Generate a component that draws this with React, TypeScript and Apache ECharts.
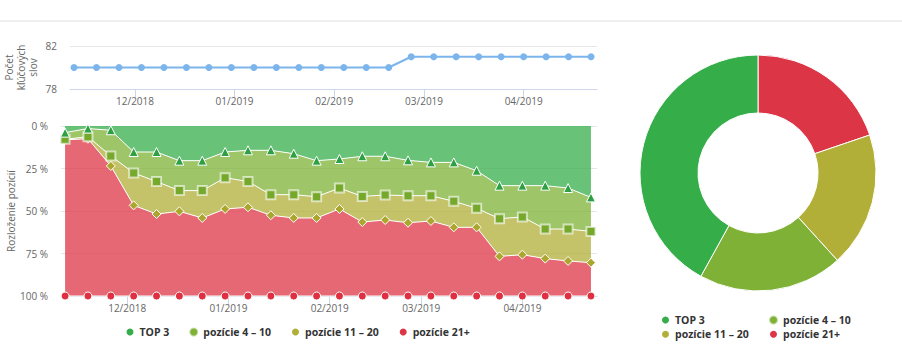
import React, { useEffect, useRef } from "react";
import * as echarts from "echarts";

const dates = [
  "2018-11-12", "2018-11-19", "2018-11-26", "2018-12-03", "2018-12-10", "2018-12-17",
  "2018-12-24", "2018-12-31", "2019-01-07", "2019-01-14", "2019-01-21", "2019-01-28",
  "2019-02-04", "2019-02-11", "2019-02-18", "2019-02-25", "2019-03-04", "2019-03-11",
  "2019-03-18", "2019-03-25", "2019-04-01", "2019-04-08", "2019-04-15", "2019-04-22",
];
const keywordCount = [80, 80, 80, 80, 80, 80, 80, 80, 80, 80, 80, 80, 80, 80, 80, 81, 81, 81, 81, 81, 81, 81, 81, 81];

const top3 = [3.9, 1.5, 2.5, 15.3, 15.3, 20.4, 20.4, 15.3, 14.3, 14.3, 16.3, 20.4, 19.4, 17.8, 17.8, 20.2, 21.4, 21.4, 26.3, 35.1, 35.1, 35.1, 36.5, 42.0];
const pos4to10 = [3.9, 4.8, 15.1, 12.3, 17.4, 17.6, 17.6, 15.1, 18.4, 26.1, 24.1, 21.2, 17.1, 23.6, 22.8, 20.8, 19.6, 22.9, 22.1, 19.4, 18.4, 25.5, 24.1, 20.0];
const pos11to20 = [0.3, 1.2, 5.9, 19.1, 19.1, 12.2, 16.1, 18.4, 15.1, 12.1, 13.7, 12.5, 12.3, 15.1, 14.7, 15.9, 14.9, 15.3, 11.2, 22.2, 22.2, 17.4, 18.8, 18.4];
const pos21plus = [91.9, 92.5, 76.5, 53.3, 48.2, 49.8, 45.9, 51.2, 52.2, 47.5, 45.9, 45.9, 51.2, 43.5, 44.7, 43.1, 44.1, 40.4, 40.4, 23.3, 24.3, 22.0, 20.6, 19.6];

const monthTicks = ["2018-12-01", "2019-01-01", "2019-02-01", "2019-03-01", "2019-04-01"];

const seriesNames = ["TOP 3", "pozície 4 – 10", "pozície 11 – 20", "pozície 21+"];
const seriesColors = ["#35ae4a", "#7eb136", "#b1af38", "#dc3546"];
const markerColors = ["#2ea043", "#76a82c", "#aaa72c", "#e02f41"];
const markerSymbols = ["triangle", "rect", "diamond", "circle"];

// donut (latest week), clockwise from 12 o'clock
const pieNames = ["pozície 21+", "pozície 11 – 20", "pozície 4 – 10", "TOP 3"];
const pieValues = [19.8, 18.5, 19.8, 42.0];

const FONT = "Open Sans";
const DAY = 86400000;

function ts(s: string) {
  const [y, m, d] = s.split("-").map(Number);
  return new Date(y, m - 1, d).getTime();
}
function fmtMonth(v: number) {
  const d = new Date(v);
  const mm = d.getMonth() + 1;
  return (mm < 10 ? "0" + mm : "" + mm) + "/" + d.getFullYear();
}

export default function App() {
  const ref = useRef<HTMLDivElement>(null);
  useEffect(() => {
    if (!ref.current) return;
    const chart = echarts.init(ref.current, undefined, { renderer: "svg" });
    const xMin = ts(dates[0]) - 1.25 * DAY;
    const xMax = ts(dates[dates.length - 1]) + 1.85 * DAY;
    const tickVals = monthTicks.map(ts);
    const lbl = { color: "#666", fontSize: 10, fontFamily: FONT };

    const mkX = (gridIndex: number) => ({
      type: "value",
      gridIndex,
      min: xMin,
      max: xMax,
      scale: true,
      axisLine: { show: true, onZero: false, lineStyle: { color: "#ccd6eb", width: 1 } },
      axisTick: { show: true, length: 8, customValues: tickVals, lineStyle: { color: "#ccd6eb" } },
      axisLabel: { ...lbl, margin: 7, customValues: tickVals, formatter: (v: number) => fmtMonth(v) },
      splitLine: { show: false },
    });

    const stackData = [top3, pos4to10, pos11to20, pos21plus];
    const areaSeries = stackData.map((arr, i) => ({
      type: "line",
      name: seriesNames[i],
      xAxisIndex: 1,
      yAxisIndex: 1,
      stack: "pos",
      z: 10 - i,
      clip: false,
      // value first so that the share (y) is the stacked dimension
      data: arr.map((v, k) => [v, ts(dates[k])]),
      encode: { x: 1, y: 0 },
      symbol: markerSymbols[i],
      symbolSize: i === 3 ? 8 : 9,
      showSymbol: true,
      itemStyle: { color: markerColors[i], borderColor: i === 1 ? "rgba(255,255,255,0.6)" : "#fff", borderWidth: i === 1 ? 2 : 1 },
      lineStyle: { color: "#fff", width: 1 },
      areaStyle: { color: seriesColors[i], opacity: 0.75 },
      emphasis: { disabled: true },
    }));

    const legendText = { color: "#333", fontSize: 10.5, fontWeight: "bold", fontFamily: FONT, lineHeight: 12 };
    const legendItem = (n: string) => ({ name: n, itemStyle: { color: seriesColors[seriesNames.indexOf(n)] } });
    const legendBase = {
      icon: "circle",
      itemWidth: 9,
      itemHeight: 9,
      padding: 0,
      selectedMode: false,
      textStyle: legendText,
    };

    chart.setOption({
      animation: false,
      textStyle: { fontFamily: FONT },
      graphic: [
        { type: "rect", shape: { x: 0, y: 20, width: 902, height: 2 }, style: { fill: "#efefef" } },
      ],
      grid: [
        { left: 70, right: 305, top: 46, height: 43, outerBoundsMode: "none", containLabel: false },
        { left: 61, right: 305, top: 126, height: 170, outerBoundsMode: "none", containLabel: false },
      ],
      xAxis: [mkX(0), mkX(1)],
      yAxis: [
        {
          type: "value",
          gridIndex: 0,
          min: 78,
          max: 82,
          interval: 4,
          name: "Počet\nkľúčových\nslov",
          nameLocation: "middle",
          nameRotate: 90,
          nameGap: 31,
          nameMoveOverlap: false,
          nameTextStyle: { color: "#666", fontSize: 10, fontFamily: FONT, lineHeight: 12 },
          axisLine: { show: false },
          axisTick: { show: false },
          axisLabel: { ...lbl, margin: 13 },
          splitLine: { lineStyle: { color: "#e6e6e6" } },
        },
        {
          type: "value",
          gridIndex: 1,
          min: 0,
          max: 100,
          interval: 25,
          inverse: true,
          name: "Rozloženie pozícií",
          nameLocation: "middle",
          nameRotate: 90,
          nameGap: 45,
          nameMoveOverlap: false,
          nameTextStyle: { color: "#666", fontSize: 10, fontFamily: FONT },
          axisLine: { show: false },
          axisTick: { show: false },
          axisLabel: { ...lbl, margin: 13, formatter: "{value} %" },
          splitLine: { lineStyle: { color: "#e6e6e6" } },
        },
      ],
      legend: [
        {
          ...legendBase,
          left: 124.5,
          top: 326,
          itemGap: 19,
          data: seriesNames.map(legendItem),
        },
        {
          ...legendBase,
          left: 660,
          top: 314,
          orient: "vertical",
          itemGap: 2.3,
          data: [seriesNames[0], seriesNames[2]].map(legendItem),
        },
        {
          ...legendBase,
          left: 768,
          top: 314,
          orient: "vertical",
          itemGap: 2.3,
          data: [seriesNames[1], seriesNames[3]].map(legendItem),
        },
      ],
      series: [
        {
          type: "line",
          name: "Počet kľúčových slov",
          xAxisIndex: 0,
          yAxisIndex: 0,
          data: keywordCount.map((v, k) => [ts(dates[k]), v]),
          symbol: "circle",
          symbolSize: 7,
          itemStyle: { color: "#7cb5ec" },
          lineStyle: { color: "#7cb5ec", width: 2 },
          emphasis: { disabled: true },
        },
        ...areaSeries,
        {
          type: "pie",
          name: "Rozloženie",
          center: [758, 173],
          radius: [60, 118],
          startAngle: 90,
          clockwise: true,
          label: { show: false },
          labelLine: { show: false },
          emphasis: { disabled: true },
          itemStyle: { borderColor: "#fff", borderWidth: 1 },
          data: pieNames.map((n, i) => ({
            name: n,
            value: pieValues[i],
            itemStyle: { color: seriesColors[seriesNames.indexOf(n)] },
          })),
        },
      ],
    });
    return () => chart.dispose();
  }, []);
  return (
    <div
      ref={ref}
      style={{ position: "absolute", left: 0, top: 0, width: 902, height: 354 }}
    />
  );
}
